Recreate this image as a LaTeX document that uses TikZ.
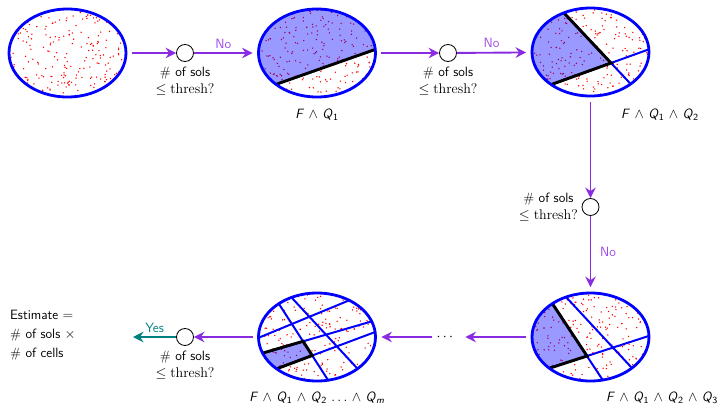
\documentclass[tikz,border=0pt]{standalone}
\usepackage{amsmath,amssymb}
\usepackage{xcolor}
\usepackage{tikz}
\usetikzlibrary{shapes,arrows.meta,positioning}

\definecolor{flowpurple}{RGB}{138,43,226}
\definecolor{labpurple}{RGB}{160,75,232}
\definecolor{yesteal}{RGB}{0,128,128}

\newcommand{\solsq}{\textsf{\# of sols}\\$\leq\mathrm{thresh}?$}
\newcommand{\Qi}[1]{\textit{Q}\textsubscript{#1}}
% scatter solutions over a cell
\newcommand{\sprinkle}[3]{%
  \pgfmathsetseed{#3}%
  \foreach \k in {1,...,230} {
    \fill[red] ({#1+58.5*rand},{#2+44*rand}) circle (0.65pt);
  }%
}

\begin{document}
\begin{tikzpicture}[x=0.03cm,y=-0.03cm,font=\fontsize{11.5}{14.5}\selectfont,
  region/.style={ellipse,draw=blue,line width=2.4pt,minimum width=3.51cm,minimum height=2.64cm,inner sep=0pt,outer sep=5pt},
  check/.style={circle,draw=black,fill=white,line width=0.7pt,minimum size=0.51cm,inner sep=0pt},
  flow/.style={draw=flowpurple,line width=1.6pt,-{Stealth[length=9pt,width=9pt,inset=3pt]}},
  yesflow/.style={draw=yesteal,line width=1.6pt,-{Stealth[length=9pt,width=9pt,inset=3pt]}},
  qlab/.style={align=center,inner sep=1pt},
  answer/.style={font=\fontsize{11.5}{14.5}\sffamily,text=labpurple},
  fmla/.style={font=\fontsize{11.5}{14.5}\sffamily},
  cellline/.style={blue,line width=1.7pt},
  cut/.style={black,line width=2.5pt},
  shade/.style={fill=blue,fill opacity=0.4}]
\useasboundingbox (0,0) rectangle (720,406);

% Cell 0: all solutions
\begin{scope}
\clip (67.5,53) ellipse [x radius=58.5,y radius=44];
\sprinkle{67.5}{53}{3}
\end{scope}
\node[region] (e0) at (67.5,53) {};

% Cell 1: one constraint
\begin{scope}
\clip (317,53) ellipse [x radius=58.5,y radius=44];
\sprinkle{317}{53}{7}
\fill[shade] (250,93.5) -- (385,46) -- (385,0) -- (250,0) -- cycle;
\draw[cut] (250,93.5) -- (385,46);
\end{scope}
\node[region] (e1) at (317,53) {};

% Cell 2: two constraints
\begin{scope}
\clip (590.5,52) ellipse [x radius=58.5,y radius=44];
\sprinkle{590.5}{52}{11}
\fill[shade] (542,-10.5) -- (611,63) -- (519.5,96) -- (500,96) -- (500,-10.5) -- cycle;
\draw[cellline] (542,-10.5) -- (657,112);
\draw[cellline] (519.5,96) -- (672,41);
\draw[cut] (542,-10.5) -- (611,63) -- (519.5,96);
\end{scope}
\node[region] (e2) at (590.5,52) {};

% Cell 3: three constraints
\begin{scope}
\clip (590.5,337) ellipse [x radius=58.5,y radius=44];
\sprinkle{590.5}{337}{19}
\fill[shade] (534.5,276.5) -- (587,356) -- (531.5,374) -- (500,374) -- (500,276.5) -- cycle;
\draw[cellline] (534.5,276.5) -- (608,388);
\draw[cellline] (531.5,374) -- (661,332);
\draw[cellline] (546.5,276) -- (650.5,388);
\draw[cut] (534.5,276.5) -- (587,356) -- (531.5,374);
\end{scope}
\node[region] (e3) at (590.5,337) {};

% Cell m: all constraints
\begin{scope}
\clip (317,337) ellipse [x radius=59,y radius=43.5];
\sprinkle{317}{337}{23}
\fill[shade] (240,359.7) -- (303.1,341.3) -- (312.2,355.5) -- (240,382.5) -- cycle;
\draw[cellline] (264.3,281.2) -- (342.7,402.8);
\draw[cellline] (272.8,277.3) -- (375.2,387.7);
\draw[cellline] (230.4,349.4) -- (377.6,288.6);
\draw[cellline] (230,362.6) -- (395,314.6);
\draw[cellline] (240,382.5) -- (395,324.6);
\draw[cut] (240,359.7) -- (303.1,341.3) -- (312.2,355.5) -- (240,382.5);
\end{scope}
\node[region] (e4) at (317,337) {};

% Checks
\node[check] (c1) at (185,53) {};
\node[check] (c2) at (448,53) {};
\node[check] (c3) at (590.5,207) {};
\node[check] (c4) at (185,337) {};
\node[qlab,below=3pt of c1] (q1) {\solsq};
\node[qlab,below=3pt of c2] (q2) {\solsq};
\node[qlab,left=2pt of c3] (q3) {\solsq};
\node[qlab,below=3pt of c4] (q4) {\solsq};

% Formulas
\node[fmla] (f1) at (317,115) {\textit{F} $\wedge$ \Qi{1}};
\node[fmla] (f2) at (660,115) {\textit{F} $\wedge$ \Qi{1} $\wedge$ \Qi{2}};
\node[fmla] (f3) at (662,398) {\textit{F} $\wedge$ \Qi{1} $\wedge$ \Qi{2} $\wedge$ \Qi{3}};
\node[fmla] (f4) at (317,398) {\textit{F} $\wedge$ \Qi{1} $\wedge$ \Qi{2} $\ldots$ $\wedge$ \Qi{\textit{m}}};

\node (dots) at (446,337) {$\cdots$};
\node[font=\fontsize{11.5}{16}\sffamily,align=left,anchor=west] (est) at (6,335) {Estimate $=$\\\# of sols $\times$\\\# of cells};
\coordinate (yesend) at (133,337);

% Flow
\draw[flow] (e0) -- (c1);
\draw[flow] (c1) -- node[answer,above] {No} (e1);
\draw[flow] (e1) -- (c2);
\draw[flow] (c2) -- node[answer,above] {No} (e2);
\draw[flow] (e2) -- (c3);
\draw[flow] (c3) -- node[answer,right=4pt] {No} (e3);
\draw[flow,shorten >=5pt] (e3) -- (dots);
\draw[flow] (dots) -- (e4);
\draw[flow] (e4) -- (c4);
\draw[yesflow] (c4) -- node[font=\fontsize{11.5}{14.5}\sffamily,text=yesteal,above] {Yes} (yesend);
\end{tikzpicture}
\end{document}
